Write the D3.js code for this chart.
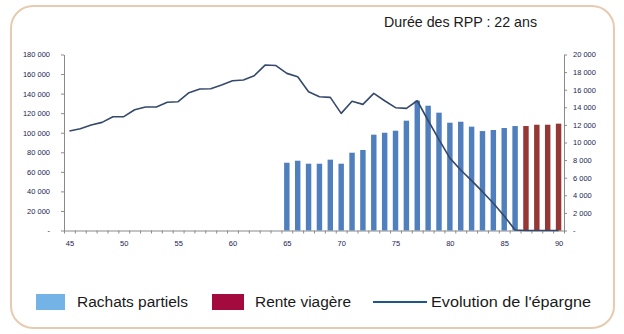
<!DOCTYPE html>
<html>
<head>
<meta charset="utf-8">
<script src="https://cdn.jsdelivr.net/npm/d3@7"></script>
<style>
  body { margin: 0; background: #ffffff; }
  svg { display: block; }
</style>
</head>
<body>
<svg id="chart" width="624" height="334"></svg>
<script>
// Ages on the horizontal axis
const ages = [45, 46, 47, 48, 49, 50, 51, 52, 53, 54, 55, 56, 57, 58, 59, 60,
              61, 62, 63, 64, 65, 66, 67, 68, 69, 70, 71, 72, 73, 74, 75, 76,
              77, 78, 79, 80, 81, 82, 83, 84, 85, 86, 87, 88, 89, 90];

// Savings balance (left axis), one value per age
const epargne = [101700, 104100, 107900, 110600, 116400, 116400, 123500, 126300,
                 126300, 131100, 131700, 140900, 144700, 145000, 148800, 153200,
                 153900, 158300, 169200, 168700, 160700, 157300, 141900, 136800,
                 136200, 119800, 132100, 129000, 140300, 132700, 125600, 124900,
                 132700, 112500, 93000, 74000, 61900, 51000, 39700, 27800,
                 14800, 500, 0, 0, 0, 0];

// Partial buybacks (right axis)
const rachatAges = [65, 66, 67, 68, 69, 70, 71, 72, 73, 74, 75,
                    76, 77, 78, 79, 80, 81, 82, 83, 84, 85, 86];
const rachatValues = [7700, 7930, 7590, 7590, 8050, 7590, 8840, 9150, 10890, 11110, 11340,
                      12480, 14750, 14180, 13390, 12250, 12360, 11800, 11300, 11420, 11650, 11870];

// Life annuity (right axis)
const renteAges = [87, 88, 89, 90];
const renteValues = [11870, 12020, 12020, 12140];

// Tick values
const xLabels = [45, 50, 55, 60, 65, 70, 75, 80, 85, 90];
const leftTicks = [0, 20000, 40000, 60000, 80000, 100000, 120000, 140000, 160000, 180000];
const rightTicks = [0, 2000, 4000, 6000, 8000, 10000, 12000, 14000, 16000, 18000, 20000];

const title = "Durée des RPP : 22 ans";
const legendItems = [
  { label: "Rachats partiels", type: "rect", color: "#74b3e6" },
  { label: "Rente viagère", type: "rect", color: "#a30b3e" },
  { label: "Evolution de l'épargne", type: "line", color: "#1d5783" }
];

const svg = d3.select("#chart");
const W = 624, H = 334;
const plot = { left: 64, right: 564, top: 54.5, bottom: 230.5 };

const axisColor = "#8a8a8a";
const tickTextColor = "#1c1c50";
const tickFont = "Liberation Sans, Arial, sans-serif";

// Rounded frame
svg.append("rect")
  .attr("x", 11).attr("y", 6)
  .attr("width", 603).attr("height", 322)
  .attr("rx", 22).attr("ry", 22)
  .attr("fill", "none")
  .attr("stroke", "#e6cbb0")
  .attr("stroke-width", 2);

// Title
svg.append("text")
  .attr("x", 384).attr("y", 27)
  .attr("font-family", "Liberation Sans, Arial, sans-serif")
  .attr("font-size", 14.2)
  .attr("fill", "#1a1a1a")
  .attr("textLength", 153)
  .attr("lengthAdjust", "spacingAndGlyphs")
  .text(title);

// Scales
const x = d3.scaleBand().domain(ages).range([plot.left, plot.right]).paddingInner(0.5).paddingOuter(0.25);
const xEdge = d3.scaleLinear().domain([ages[0] - 0.5, ages[ages.length - 1] + 0.5]).range([plot.left, plot.right]);
const yLeft = d3.scaleLinear().domain([0, 180000]).range([plot.bottom, plot.top]);
const yRight = d3.scaleLinear().domain([0, 20000]).range([plot.bottom, plot.top]);

const locale = d3.formatLocale({ decimal: ",", thousands: " ", grouping: [3], currency: ["", " €"] });
const fmt = locale.format(",d");
const tickFmt = v => (v === 0 ? "-" : fmt(v));

function styleAxis(g) {
  g.select(".domain").attr("stroke", axisColor).attr("stroke-width", 1);
  g.selectAll(".tick line").attr("stroke", axisColor);
  g.selectAll(".tick text")
    .attr("fill", tickTextColor)
    .attr("font-family", tickFont)
    .attr("font-size", 7.5);
}

// Left axis
svg.append("g")
  .attr("transform", `translate(${plot.left},0)`)
  .call(d3.axisLeft(yLeft).tickValues(leftTicks).tickFormat(tickFmt).tickSize(3).tickSizeOuter(0).tickPadding(11))
  .call(styleAxis);

// Right axis
svg.append("g")
  .attr("transform", `translate(${plot.right},0)`)
  .call(d3.axisRight(yRight).tickValues(rightTicks).tickFormat(tickFmt).tickSize(3).tickSizeOuter(0).tickPadding(6))
  .call(styleAxis);

// Bottom axis: small ticks between ages
const edges = ages.map(a => a - 0.5).concat([ages[ages.length - 1] + 0.5]);
svg.append("g")
  .attr("transform", `translate(0,${plot.bottom})`)
  .call(d3.axisBottom(xEdge).tickValues(edges).tickFormat("").tickSize(3).tickSizeOuter(0))
  .call(styleAxis);

// Bottom axis labels every five years
const xl = svg.append("g")
  .attr("transform", `translate(0,${plot.bottom})`)
  .call(d3.axisBottom(xEdge).tickValues(xLabels).tickFormat(d3.format("d")).tickSize(0).tickPadding(10.5));
xl.select(".domain").remove();
xl.call(styleAxis);

// Bars: partial buybacks
const bw = x.bandwidth();
svg.append("g").selectAll("rect")
  .data(rachatAges.map((a, i) => ({ age: a, v: rachatValues[i] })))
  .join("rect")
  .attr("x", d => xEdge(d.age) - bw / 2)
  .attr("y", d => yRight(d.v))
  .attr("width", bw)
  .attr("height", d => yRight(0) - yRight(d.v))
  .attr("fill", "#4f7fbc");

// Bars: life annuity
svg.append("g").selectAll("rect")
  .data(renteAges.map((a, i) => ({ age: a, v: renteValues[i] })))
  .join("rect")
  .attr("x", d => xEdge(d.age) - bw / 2)
  .attr("y", d => yRight(d.v))
  .attr("width", bw)
  .attr("height", d => yRight(0) - yRight(d.v))
  .attr("fill", "#953735");

// Savings line
const line = d3.line()
  .x((d, i) => xEdge(ages[i]))
  .y(d => yLeft(d));
svg.append("path")
  .datum(epargne)
  .attr("d", line)
  .attr("fill", "none")
  .attr("stroke", "#34496c")
  .attr("stroke-width", 1.6)
  .attr("stroke-linejoin", "round");

// Legend
const legendFont = "Liberation Sans, Arial, sans-serif";
const lg = svg.append("g");
const legendPos = [
  { sx: 36, sw: 29, tx: 77, tw: 111 },
  { sx: 212, sw: 32, tx: 255, tw: 96 },
  { sx: 373, sw: 54, tx: 431, tw: 160 }
];
legendItems.forEach((item, i) => {
  const p = legendPos[i];
  if (item.type === "rect") {
    lg.append("rect")
      .attr("x", p.sx).attr("y", 294)
      .attr("width", p.sw).attr("height", 16)
      .attr("fill", item.color);
  } else {
    lg.append("line")
      .attr("x1", p.sx).attr("x2", p.sx + p.sw)
      .attr("y1", 302).attr("y2", 302)
      .attr("stroke", item.color)
      .attr("stroke-width", 2);
  }
  lg.append("text")
    .attr("x", p.tx).attr("y", 307)
    .attr("font-family", legendFont)
    .attr("font-size", 15.5)
    .attr("fill", "#1a1a1a")
    .attr("textLength", p.tw)
    .attr("lengthAdjust", "spacingAndGlyphs")
    .text(item.label);
});
</script>
</body>
</html>
